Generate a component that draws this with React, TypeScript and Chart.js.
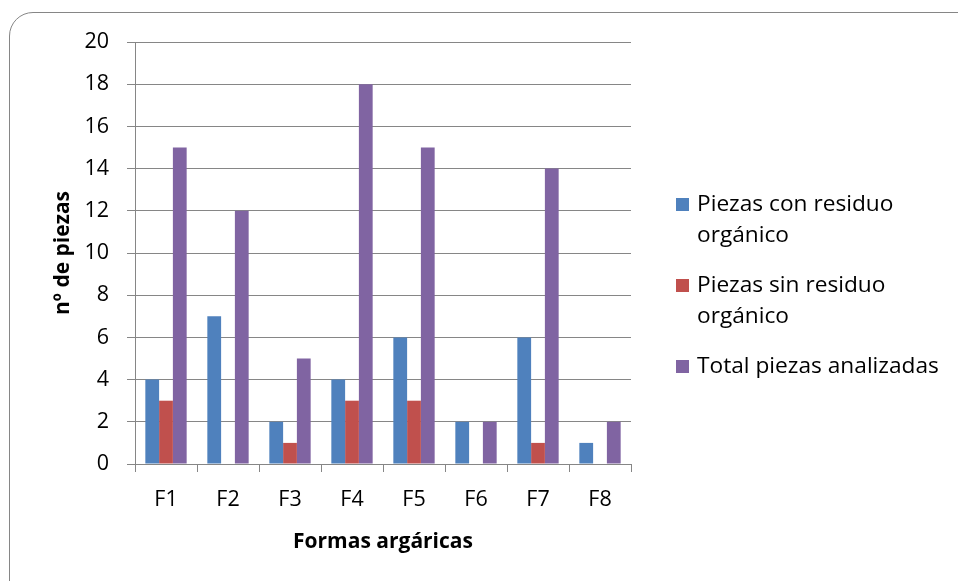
import React, { useEffect, useRef } from "react";
import { Chart, registerables } from "chart.js";

Chart.register(...registerables);

const categories = ["F1", "F2", "F3", "F4", "F5", "F6", "F7", "F8"];
const conResiduo = [4, 7, 2, 4, 6, 2, 6, 1];
const sinResiduo = [3, 0, 1, 3, 3, 0, 1, 0];
const totalPiezas = [15, 12, 5, 18, 15, 2, 14, 2];
const seriesLabels = [
  "Piezas con residuo orgánico",
  "Piezas sin residuo orgánico",
  "Total piezas analizadas",
];
const legendLines = [
  ["Piezas con residuo", "orgánico"],
  ["Piezas sin residuo", "orgánico"],
  ["Total piezas analizadas"],
];
const seriesColors = ["#4F81BD", "#C0504D", "#8064A2"];
const yTitle = "nº de piezas";
const xTitle = "Formas argáricas";

const FONT = "'Open Sans', 'Liberation Sans', sans-serif";
const GRID = "#868686";

const legendPlugin = {
  id: "customLegend",
  afterDraw(chart: any) {
    const ctx = chart.ctx;
    const boxX = chart.chartArea.right + 45;
    const textX = boxX + 21;
    const lineH = 31;
    const gap = 19;
    let baseline = 211;
    ctx.save();
    ctx.font = `22.7px ${FONT}`;
    ctx.textBaseline = "alphabetic";
    ctx.textAlign = "left";
    chart.data.datasets.forEach((ds: any, i: number) => {
      const lines = legendLines[i];
      ctx.fillStyle = ds.backgroundColor;
      ctx.fillRect(boxX, baseline - 13, 13, 13);
      ctx.fillStyle = "#000";
      lines.forEach((ln: string, j: number) => {
        ctx.fillText(ln, textX, baseline + j * lineH);
      });
      baseline += lines.length * lineH + gap;
    });
    ctx.restore();
  },
};

export default function App() {
  const ref = useRef<HTMLCanvasElement | null>(null);
  useEffect(() => {
    if (!ref.current) return;
    const chart = new Chart(ref.current, {
      type: "bar",
      data: {
        labels: categories,
        datasets: [
          { label: seriesLabels[0], data: conResiduo, backgroundColor: seriesColors[0] },
          { label: seriesLabels[1], data: sinResiduo, backgroundColor: seriesColors[1] },
          { label: seriesLabels[2], data: totalPiezas, backgroundColor: seriesColors[2] },
        ],
      },
      options: {
        responsive: false,
        animation: false,
        layout: { padding: { top: 42, right: 327, left: 0, bottom: 0 } },
        datasets: {
          bar: { categoryPercentage: 0.6667, barPercentage: 1 },
        },
        plugins: {
          legend: { display: false },
          tooltip: { enabled: false },
        },
        scales: {
          x: {
            grid: {
              drawOnChartArea: false,
              drawTicks: true,
              tickLength: 8,
              color: GRID,
              lineWidth: 1,
            },
            border: { display: true, color: GRID, width: 1 },
            ticks: {
              color: "#000",
              font: { family: FONT, size: 21.5 },
              padding: 15,
            },
            title: {
              display: true,
              text: xTitle,
              color: "#000",
              font: { family: FONT, size: 21, weight: "bold" },
              padding: { top: 0, bottom: 26 },
            },
            afterFit(scale: any) {
              scale.height = 117;
            },
          },
          y: {
            min: 0,
            max: 20,
            ticks: {
              stepSize: 2,
              color: "#000",
              font: { family: FONT, size: 21.5 },
              padding: 18,
            },
            grid: {
              color: GRID,
              lineWidth: 1,
              drawTicks: true,
              tickLength: 8,
            },
            border: { display: true, color: GRID, width: 1 },
            title: {
              display: true,
              text: yTitle,
              color: "#000",
              font: { family: FONT, size: 21, weight: "bold" },
              padding: { top: 50, bottom: 0 },
            },
            afterFit(scale: any) {
              scale.width = 135;
            },
          },
        },
      },
      plugins: [legendPlugin],
    });
    return () => chart.destroy();
  }, []);

  return (
    <div
      style={{
        position: "fixed",
        left: 0,
        top: 0,
        width: 958,
        height: 581,
        overflow: "hidden",
        background: "#fff",
      }}
    >
      <div
        style={{
          position: "absolute",
          left: 9,
          top: 12,
          width: 980,
          height: 600,
          border: "1.5px solid #868686",
          borderRadius: 24,
          boxSizing: "border-box",
        }}
      />
      <canvas
        ref={ref}
        width={958}
        height={581}
        style={{ position: "absolute", left: 0, top: 0 }}
      />
    </div>
  );
}
